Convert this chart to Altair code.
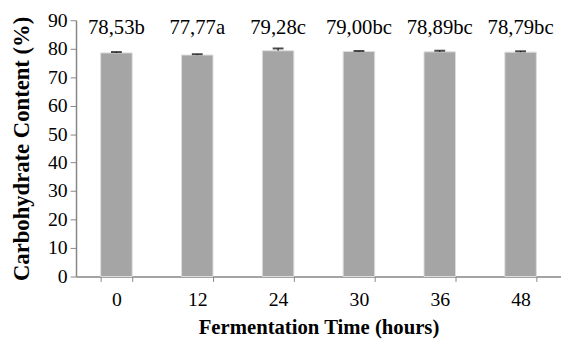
import altair as alt
import pandas as pd

times = ["0", "12", "24", "30", "36", "48"]
values = [78.53, 77.77, 79.28, 79.00, 78.89, 78.79]
errors = [0.3, 0.3, 0.8, 0.2, 0.4, 0.3]
labels = ["78,53b", "77,77a", "79,28c", "79,00bc", "78,89bc", "78,79bc"]
y_ticks = [0, 10, 20, 30, 40, 50, 60, 70, 80, 90]

df = pd.DataFrame({"time": times, "value": values, "err": errors, "label": labels})
df["top"] = df["value"] + df["err"]
df["label_y"] = 87.3

FONT = "Liberation Serif"

x = alt.X("time:N", sort=times, title="Fermentation Time (hours)",
          scale=alt.Scale(paddingInner=0.61, paddingOuter=0.305),
          axis=alt.Axis(labelAngle=0, tickBand="extent", labelFontSize=20, labelFont=FONT,
                        labelColor="black", titleFont=FONT, titleFontSize=21, titleFontWeight="bold",
                        titleColor="black", domainColor="#868686", tickColor="#868686",
                        tickSize=5, domainWidth=1.5, labelPadding=8, titlePadding=8))

yaxis = alt.Axis(values=y_ticks, grid=False, labelFontSize=20, labelOverlap=False,
                 labelFont=FONT, labelColor="black", titleFont=FONT, titleFontSize=23,
                 titleFontWeight="bold", titleColor="black", domainColor="#868686",
                 tickColor="#868686", tickSize=6, domainWidth=1.5, labelPadding=3,
                 titlePadding=14)
yscale = alt.Scale(domain=[0, 90], nice=False)
YT = "Carbohydrate Content (%)"

base = alt.Chart(df)

bars = base.mark_bar(color="#a5a5a5", stroke="#dddddd", strokeWidth=1).encode(
    x=x,
    y=alt.Y("value:Q", title=YT, scale=yscale, axis=yaxis),
)

stems = base.mark_rule(color="black", strokeWidth=1).encode(
    x=alt.X("time:N", sort=times),
    y=alt.Y("value:Q", title=YT, scale=yscale, axis=yaxis), y2="top:Q")

caps = base.mark_tick(color="black", thickness=2, size=11, orient="horizontal").encode(
    x=alt.X("time:N", sort=times),
    y=alt.Y("top:Q", title=YT, scale=yscale, axis=yaxis))

text = base.mark_text(font=FONT, fontSize=21, color="black", baseline="middle").encode(
    x=alt.X("time:N", sort=times),
    y=alt.Y("label_y:Q", title=YT, scale=yscale, axis=yaxis),
    text="label:N")

chart = (bars + stems + caps + text).properties(
    width=492, height=260,
    autosize=alt.AutoSizeParams(type="none"),
    padding={"left": 69, "top": 10, "right": 0, "bottom": 61},
).configure_view(stroke=None)

chart.save("out.html", embed_options={"renderer": "svg", "actions": False})
